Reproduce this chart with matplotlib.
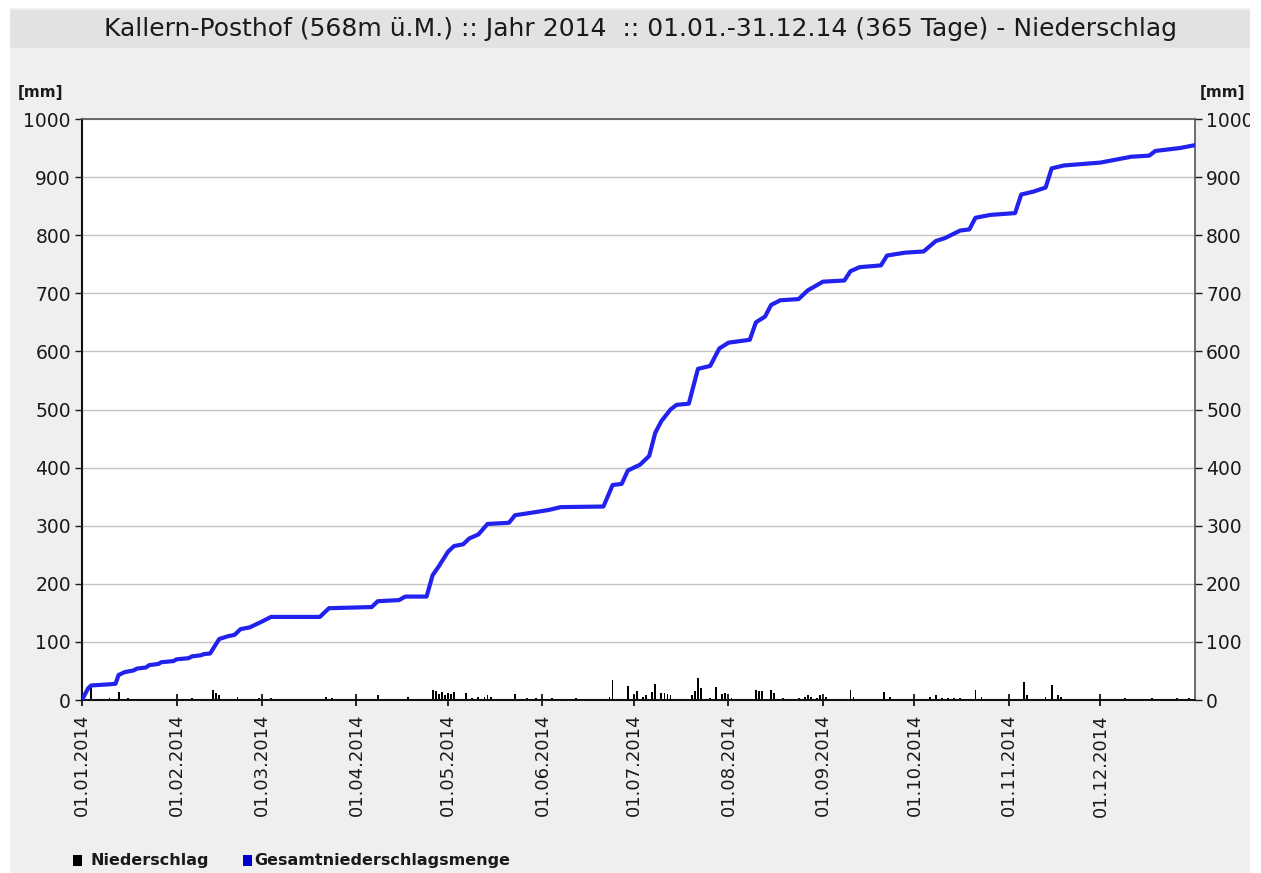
import matplotlib.pyplot as plt
from matplotlib.patches import Rectangle

W, H = 1261, 873

# cumulative total (Gesamtniederschlagsmenge), day of year vs mm
cum_days = [0, 2, 3, 9, 11, 12, 14, 17, 18, 21, 22, 25, 26, 30, 31, 35, 36,
            39, 40, 42, 45, 48, 50, 52, 55, 59, 62,
            78, 81, 95, 97, 104, 106, 113, 115, 117, 120, 122, 125, 127, 130,
            133, 140, 142, 147, 153, 157, 171, 174, 177, 179, 183, 186, 188,
            190, 193, 195, 199, 202, 206, 209, 212, 219, 221, 224, 226, 229,
            235, 238, 243, 250, 252, 255, 262, 264, 270, 276, 280, 283, 288,
            291, 293, 298, 306, 308, 312, 316, 318, 322, 334, 344, 350, 352,
            360, 365]
cum_mm = [0, 20, 25, 27, 28, 43, 48, 51, 54, 56, 60, 62, 65, 67, 70, 72, 75,
          77, 79, 80, 105, 110, 112, 122, 125,
          135, 143, 143, 158, 160, 170, 172, 178, 178, 215, 230, 255, 265,
          268, 278, 285, 303, 305, 318, 322, 327, 332, 333, 370, 372, 395,
          405, 420, 460, 480, 500, 508, 510, 570, 575, 605, 615, 620, 650,
          660, 680, 688, 690, 705, 720, 722, 738, 745, 748, 765, 770, 772,
          790, 795, 808, 810, 830, 835, 838, 870, 875, 882, 915, 920, 925,
          935, 937, 945, 950, 955]

# single precipitation bars (Niederschlag)
bar_days = [3, 9, 12, 15, 20, 25, 31, 36, 43, 44, 45, 51, 58, 62, 80, 82,
            97, 107, 115, 116, 117, 118, 119, 120, 121, 122, 126, 128, 130,
            132, 133, 134, 142, 146, 149, 154, 162, 173, 174, 179, 181, 182,
            184, 185, 187, 188, 190, 191, 192, 193, 200, 201, 202, 203, 206,
            208, 210, 211, 213, 221, 222, 223, 226, 227, 230, 235, 237, 238,
            239, 241, 242, 244, 252, 253, 263, 265, 278, 280, 282, 284, 286,
            288, 293, 295, 309, 310, 316, 318, 320, 321, 342, 351, 359, 363]
bar_mm = [23, 3, 14, 3, 2, 2, 2, 3, 17, 12, 8, 5, 4, 3, 5, 4,
          8, 6, 18, 15, 10, 14, 8, 12, 10, 14, 12, 4, 5, 6, 8, 5,
          10, 3, 4, 4, 3, 6, 35, 24, 8, 15, 5, 8, 13, 28, 12, 12,
          10, 8, 8, 15, 38, 20, 3, 22, 10, 12, 4, 18, 16, 15, 18,
          12, 3, 3, 5, 8, 6, 4, 8, 6, 17, 5, 14, 5, 5, 8, 4, 3, 3,
          4, 17, 6, 31, 8, 6, 25, 8, 5, 4, 4, 3, 3]

month_days = [0, 31, 59, 90, 120, 151, 181, 212, 243, 273, 304, 334]
month_labels = [f"01.{m:02d}.2014" for m in range(1, 13)]
y_ticks = list(range(0, 1001, 100))

TITLE = "Kallern-Posthof (568m ü.M.) :: Jahr 2014  :: 01.01.-31.12.14 (365 Tage) - Niederschlag"
TEXT = "#1a1a1a"

fig = plt.figure(figsize=(W / 100, H / 100), dpi=100)
fig.patch.set_facecolor("white")
fig.patches.append(Rectangle((10 / W, 0), 1240 / W, 1 - 8 / H, transform=fig.transFigure,
                             facecolor="#efefef", edgecolor="none", zorder=-5))
fig.patches.append(Rectangle((10 / W, 1 - 48 / H), 1240 / W, 38 / H, transform=fig.transFigure,
                             facecolor="#e2e2e2", edgecolor="none", zorder=-4))
fig.text(0.5 * (12 + 1268) / W, 1 - 29 / H, TITLE, ha="center", va="center",
         fontsize=18, color=TEXT)

ax = fig.add_axes([82 / W, 1 - 700 / H, (1195 - 82) / W, (700 - 119) / H])
ax.set_facecolor("white")

ax.bar(bar_days, bar_mm, width=0.6, color="black", zorder=2)
ax.plot(cum_days, cum_mm, color="#2222ee", linewidth=3.0, zorder=3,
        solid_joinstyle="round", solid_capstyle="round")

ax.set_xlim(0, 365)
ax.set_ylim(0, 1000)
ax.set_yticks(y_ticks)
ax.yaxis.grid(True, color="#c4c4c4", linewidth=1.0)
ax.set_axisbelow(True)
ax.tick_params(axis="y", labelsize=13.5, colors=TEXT, length=5, width=1,
               left=True, right=True, labelleft=True, labelright=True, pad=3)
ax.set_xticks(month_days)
ax.set_xticklabels(month_labels, rotation=90, fontsize=13, color=TEXT)
ax.tick_params(axis="x", length=8, width=1.2, direction="inout", pad=6)
for side in ["left", "bottom"]:
    ax.spines[side].set_color("#111111")
    ax.spines[side].set_linewidth(1.5)
for side in ["top", "right"]:
    ax.spines[side].set_color("#555555")
    ax.spines[side].set_linewidth(1.2)

fig.text(18 / W, 1 - 92 / H, "[mm]", fontsize=11, fontweight="bold", color=TEXT,
         ha="left", va="center")
fig.text(1200 / W, 1 - 92 / H, "[mm]", fontsize=11, fontweight="bold", color=TEXT,
         ha="left", va="center")

# legend
fig.patches.append(Rectangle((73 / W, 1 - 866 / H), 9 / W, 11 / H, transform=fig.transFigure,
                             facecolor="black", edgecolor="none"))
fig.text(90 / W, 1 - 861 / H, "Niederschlag", fontsize=11.5, fontweight="bold",
         color=TEXT, ha="left", va="center")
fig.patches.append(Rectangle((243 / W, 1 - 866 / H), 9 / W, 11 / H, transform=fig.transFigure,
                             facecolor="#0000cc", edgecolor="none"))
fig.text(254 / W, 1 - 861 / H, "Gesamtniederschlagsmenge", fontsize=11.5, fontweight="bold",
         color=TEXT, ha="left", va="center")

# the screenshot is cut at the right edge
fig.patches.append(Rectangle((1250 / W, 0), 11 / W, 1, transform=fig.transFigure,
                             facecolor="white", edgecolor="none", zorder=10))

fig.savefig("out.png", dpi=100, facecolor=fig.get_facecolor())
